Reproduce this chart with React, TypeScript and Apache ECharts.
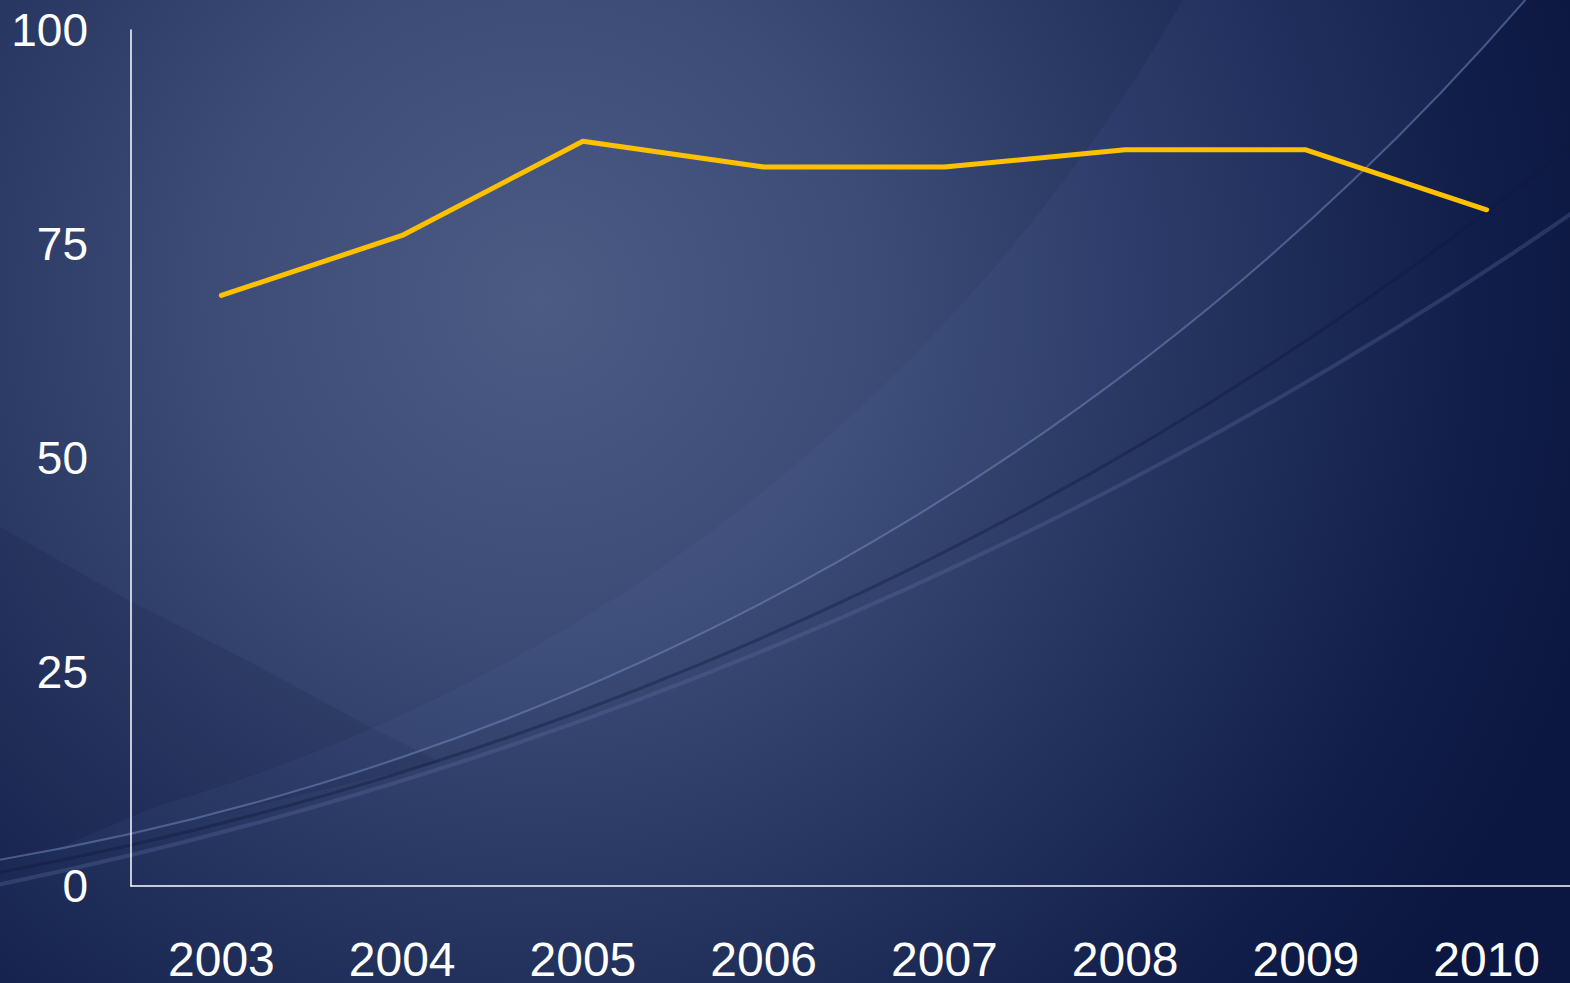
import React, { useEffect, useRef } from "react";
import * as echarts from "echarts";

const years = ["2003", "2004", "2005", "2006", "2007", "2008", "2009", "2010"];
const values = [69, 76, 87, 84, 84, 86, 86, 79];
const yMin = 0;
const yMax = 100;
const yInterval = 25;

const W = 1570;
const H = 983;
const DIV_W = 1600;

function arcPoints(cx: number, cy: number, r: number, a0: number, a1: number, n: number) {
  const pts: number[][] = [];
  for (let i = 0; i <= n; i++) {
    const a = a0 + ((a1 - a0) * i) / n;
    pts.push([cx + r * Math.cos(a), cy + r * Math.sin(a)]);
  }
  return pts;
}

function buildGraphic() {
  // decorative background arcs (circle centres / radii fitted to the reference picture)
  const A = { cx: -439, cy: -1702, r: 2599 };
  const B = { cx: -646, cy: -2586, r: 3518 };
  const C = { cx: -876, cy: -3344, r: 4318 };
  const F = { cx: -324, cy: -862, r: 1736 };
  const fanEdge = arcPoints(F.cx, F.cy, F.r, 0.44, 1.29, 40);
  const fanBack = arcPoints(A.cx, A.cy, A.r, 1.38, 0.68, 40);
  const fan = fanEdge.concat(fanBack);
  const darkLL = [
    [0, 527], [128, 600], [250, 662], [357, 720], [440, 762], [300, 795], [131, 835], [0, 862],
  ];
  const arcEl = (c: { cx: number; cy: number; r: number }, a0: number, a1: number, stroke: string, lw: number) => ({
    type: "arc",
    z: -80,
    silent: true,
    shape: { cx: c.cx, cy: c.cy, r: c.r, startAngle: a0, endAngle: a1, clockwise: true },
    style: { stroke, lineWidth: lw, fill: "none" },
  });
  return [
    {
      type: "rect",
      z: -100,
      silent: true,
      shape: { x: 0, y: 0, width: DIV_W, height: H },
      style: {
        fill: new echarts.graphic.RadialGradient(540, 300, 1100, [
          { offset: 0, color: "#4b5b84" },
          { offset: 0.3, color: "#3d4c77" },
          { offset: 0.6, color: "#24325e" },
          { offset: 0.85, color: "#111e4a" },
          { offset: 1, color: "#0b1740" },
        ], true),
      },
    },
    {
      type: "polygon",
      z: -90,
      silent: true,
      shape: { points: darkLL, smooth: 0 },
      style: { fill: "rgba(10,20,50,0.12)" },
    },
    {
      type: "polygon",
      z: -90,
      silent: true,
      shape: { points: fan },
      style: { fill: "rgba(100,130,190,0.08)" },
    },
    arcEl(C, 0.9, 1.45, "rgba(95,115,165,0.30)", 4),
    arcEl(B, 0.8, 1.45, "rgba(15,25,60,0.40)", 3),
    arcEl(A, 0.6, 1.45, "rgba(120,145,195,0.50)", 2),
  ];
}

export default function App() {
  const ref = useRef<HTMLDivElement>(null);
  useEffect(() => {
    if (!ref.current) return;
    const chart = echarts.init(ref.current, undefined, { renderer: "svg" });
    const font = "Liberation Sans, Arial, sans-serif";
    chart.setOption({
      animation: false,
      backgroundColor: "#22305c",
      graphic: { elements: buildGraphic() },
      grid: { left: 131, width: 1446, top: 30, bottom: 96, containLabel: false },
      xAxis: {
        type: "category",
        data: years,
        boundaryGap: true,
        axisLine: { show: true, lineStyle: { color: "#ffffff", width: 1.5 } },
        axisTick: { show: false },
        splitLine: { show: false },
        axisLabel: { color: "#ffffff", fontSize: 48, lineHeight: 40, fontFamily: font, margin: 53, interval: 0 },
      },
      yAxis: {
        type: "value",
        min: yMin,
        max: yMax,
        interval: yInterval,
        axisLine: { show: true, lineStyle: { color: "#ffffff", width: 1.5 } },
        axisTick: { show: false },
        splitLine: { show: false },
        axisLabel: { color: "#ffffff", fontSize: 46, fontFamily: font, margin: 43 },
      },
      series: [
        {
          type: "line",
          data: values,
          symbol: "none",
          lineStyle: { color: "#FFC000", width: 5, cap: "round", join: "round" },
          z: 5,
        },
      ],
    });
    return () => chart.dispose();
  }, []);
  return (
    <div style={{ position: "fixed", left: 0, top: 0, width: W, height: H, overflow: "hidden" }}>
      <div ref={ref} style={{ width: DIV_W, height: H }} />
    </div>
  );
}
